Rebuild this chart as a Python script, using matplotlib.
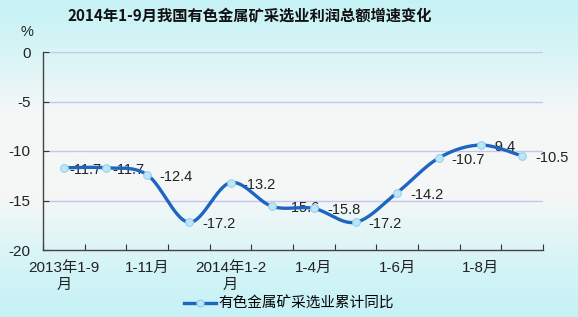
import numpy as np
import matplotlib
matplotlib.use("Agg")
import matplotlib.pyplot as plt
from matplotlib.colors import LinearSegmentedColormap
from matplotlib.lines import Line2D

plt.rcParams['font.family'] = ['Liberation Sans', 'Noto Sans CJK SC', 'DejaVu Sans']

# ---- data ----
title = "2014年1-9月我国有色金属矿采选业利润总额增速变化"
periods = ["2013年1-9月", "1-10月", "1-11月", "1-12月", "2014年1-2月", "1-3月",
           "1-4月", "1-5月", "1-6月", "1-7月", "1-8月", "1-9月"]
values = [-11.7, -11.7, -12.4, -17.2, -13.2, -15.6, -15.8, -17.2, -14.2, -10.7, -9.4, -10.5]
tick_labels = ["2013年1-9\n月", "1-11月", "2014年1-2\n月", "1-4月", "1-6月", "1-8月"]
tick_idx = [0, 2, 4, 6, 8, 10]
series_name = "有色金属矿采选业累计同比"
yticks = [0, -5, -10, -15, -20]

# label offsets (pixels) — styling only
label_dx = [6, 7, 12, 14, 12, 14, 14, 13, 13, 13, 10, 13]

W, H = 578, 317
fig = plt.figure(figsize=(W / 100, H / 100), dpi=100)

# background gradient
bg = fig.add_axes([0, 0, 1, 1], zorder=-10)
cmap = LinearSegmentedColormap.from_list(
    "bg", [(0.0, "#c6f2f6"), (0.12, "#d2f4f6"), (0.35, "#f5f7f7"), (0.62, "#f5f7f7"),
           (0.85, "#d3f4f6"), (1.0, "#c6f2f6")])
grad = np.linspace(0, 1, 256).reshape(-1, 1)
bg.imshow(grad, aspect="auto", cmap=cmap, extent=[0, 1, 0, 1], origin="upper")
bg.axis("off")

ax = fig.add_axes([43 / W, 1 - 250 / H, 500 / W, 198 / H])
ax.set_facecolor("none")

n = len(values)
x = np.arange(n) + 0.5
y = np.array(values)

# Catmull-Rom smoothing for the drawn line
def catmull(xp, yp, steps=30):
    px = np.concatenate([[xp[0]], xp, [xp[-1]]])
    py = np.concatenate([[yp[0]], yp, [yp[-1]]])
    xs, ys = [], []
    for i in range(1, len(px) - 2):
        t = np.linspace(0, 1, steps, endpoint=False)
        for arr, out in ((px, xs), (py, ys)):
            p0, p1, p2, p3 = arr[i - 1], arr[i], arr[i + 1], arr[i + 2]
            out.extend(0.5 * ((2 * p1) + (-p0 + p2) * t + (2 * p0 - 5 * p1 + 4 * p2 - p3) * t ** 2
                              + (-p0 + 3 * p1 - 3 * p2 + p3) * t ** 3))
    xs.append(xp[-1]); ys.append(yp[-1])
    return np.array(xs), np.array(ys)

sx, sy = catmull(x, y)
line_color = "#1c66c2"
ax.plot(sx, sy, color=line_color, lw=2.4, zorder=4, solid_capstyle="round")
ax.plot(x, y, ls="none", marker="o", ms=5.5, mfc="#bfe6f6", mec="#94d2ee", mew=0.8, zorder=5)

for xi, yi, dx in zip(x, y, label_dx):
    ax.annotate(f"{yi:.1f}", (xi, yi), xytext=(dx, -2), textcoords="offset pixels",
                ha="left", va="center", fontsize=10.5, color="#222222", zorder=3)

ax.set_xlim(0, n)
ax.set_ylim(-20, 0)
ax.set_yticks(yticks)
ax.set_yticklabels([str(v) for v in yticks], fontsize=11, color="#222222")
ax.tick_params(axis="y", direction="in", length=4, pad=9, color="#333333")

ax.set_xticks(np.arange(n + 1))
ax.set_xticklabels([])
ax.set_xticks([i + 0.5 for i in tick_idx], minor=True)
ax.set_xticklabels(tick_labels, minor=True, fontsize=11, color="#222222", linespacing=1.3)
ax.tick_params(axis="x", which="major", direction="in", length=4, color="#333333")
ax.tick_params(axis="x", which="minor", length=0, pad=8)

for v in yticks[:-1]:
    ax.axhline(v, color="#c4c4ec", lw=1, zorder=1, xmax=1.0)

for s in ["top", "right"]:
    ax.spines[s].set_visible(False)
for s in ["left", "bottom"]:
    ax.spines[s].set_color("#444444")
    ax.spines[s].set_linewidth(1)

fig.text(250 / W, 1 - 16 / H, title, ha="center", va="center", fontsize=11, fontweight="bold",
         family=["Noto Sans CJK SC"], color="#111111")
fig.text(27 / W, 1 - 32 / H, "%", ha="center", va="center", fontsize=10.5, color="#222222")

handle = Line2D([], [], color=line_color, lw=2.4, marker="o", ms=5, mfc="#bfe6f6", mec="#94d2ee")
fig.legend([handle], [series_name], loc="center", bbox_to_anchor=(289 / W, 1 - 304 / H),
           frameon=False, fontsize=10.5, handlelength=2.2, handletextpad=0.2)

fig.savefig("out.png", dpi=100)
